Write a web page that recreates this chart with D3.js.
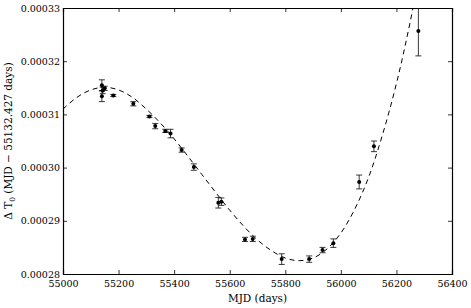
<!DOCTYPE html>
<html>
<head>
<meta charset="utf-8">
<script src="https://cdn.jsdelivr.net/npm/d3@7"></script>
<style>
  body { margin: 0; background: #fff; }
  svg text { font-family: "DejaVu Serif", serif; fill: #000; }
</style>
</head>
<body>
<div class="chart"></div>
<script>
// observed timing offsets (units of 1e-5 days)
const mjd = [55140, 55143, 55150, 55140, 55181, 55253, 55311, 55332, 55368, 55387,
  55427, 55471, 55559, 55570, 55655, 55683, 55787, 55886, 55934, 55973,
  56066, 56119, 56279];
const dT = [31.55, 31.45, 31.49, 31.34, 31.355, 31.20, 30.96, 30.78, 30.69, 30.64,
  30.33, 30.01, 29.34, 29.36, 28.65, 28.66, 28.28, 28.28, 28.45, 28.58,
  29.73, 30.40, 32.57];
const dTerr = [0.10, 0.06, 0.04, 0.10, 0.02, 0.04, 0.02, 0.05, 0.03, 0.08,
  0.04, 0.06, 0.10, 0.07, 0.04, 0.05, 0.10, 0.06, 0.05, 0.08,
  0.13, 0.10, 0.47];

// fitted model curve
const fitMjd = [55000, 55050, 55100, 55150, 55200, 55250, 55300, 55350, 55400, 55450,
  55500, 55550, 55600, 55650, 55700, 55750, 55800, 55850, 55900, 55950,
  56000, 56050, 56100, 56150, 56200, 56250, 56300];
const fitDT = [31.10, 31.32, 31.46, 31.51, 31.46, 31.32, 31.10, 30.84, 30.54, 30.21,
  29.87, 29.53, 29.20, 28.90, 28.64, 28.44, 28.30, 28.25, 28.30, 28.47,
  28.77, 29.22, 29.82, 30.62, 31.58, 32.75, 34.10];

const xTicks = [55000, 55200, 55400, 55600, 55800, 56000, 56200, 56400];
const yTicks = [28, 29, 30, 31, 32, 33];

const margin = { top: 8, right: 19, bottom: 34, left: 63 };
const W = 471, H = 308;
const width = W - margin.left - margin.right;
const height = H - margin.top - margin.bottom;

const svg = d3.select(".chart").append("svg")
  .attr("width", W).attr("height", H);
const g = svg.append("g").attr("transform", `translate(${margin.left},${margin.top})`);

const x = d3.scaleLinear().domain([55000, 56400]).range([0, width]);
const y = d3.scaleLinear().domain([28, 33]).range([height, 0]);

svg.append("defs").append("clipPath").attr("id", "clip")
  .append("rect").attr("width", width).attr("height", height);

const fmtY = d => (d / 100000).toFixed(5);

// axes, ticks pointing inward on all four sides
g.append("g").attr("transform", `translate(0,${height})`)
  .call(d3.axisBottom(x).tickValues(xTicks).tickSize(-4).tickPadding(6).tickFormat(d3.format("d")));
g.append("g")
  .call(d3.axisTop(x).tickValues(xTicks).tickSize(-4).tickFormat(""));
g.append("g")
  .call(d3.axisLeft(y).tickValues(yTicks).tickSize(-4).tickPadding(3).tickFormat(fmtY));
g.append("g").attr("transform", `translate(${width},0)`)
  .call(d3.axisRight(y).tickValues(yTicks).tickSize(-4).tickFormat(""));

g.selectAll(".domain").attr("stroke", "#000").attr("stroke-width", 1.2);
g.selectAll(".tick line").attr("stroke", "#000").attr("stroke-width", 0.8);
g.selectAll(".tick text").style("font-size", "9.5px").attr("fill", "#000");

const plot = g.append("g").attr("clip-path", "url(#clip)");

// dashed model
const fit = fitMjd.map((m, i) => [m, fitDT[i]]);
plot.append("path")
  .datum(fit)
  .attr("fill", "none")
  .attr("stroke", "#000")
  .attr("stroke-width", 1)
  .attr("stroke-dasharray", "5,4")
  .attr("d", d3.line().x(d => x(d[0])).y(d => y(d[1])).curve(d3.curveCatmullRom));

// error bars
const pts = mjd.map((m, i) => ({ m, v: dT[i], e: dTerr[i] }));
const eb = plot.selectAll(".eb").data(pts).join("g").attr("stroke", "#222").attr("stroke-width", 0.9);
eb.append("line")
  .attr("x1", d => x(d.m)).attr("x2", d => x(d.m))
  .attr("y1", d => y(d.v - d.e)).attr("y2", d => y(d.v + d.e));
eb.append("line")
  .attr("x1", d => x(d.m) - 3).attr("x2", d => x(d.m) + 3)
  .attr("y1", d => y(d.v - d.e)).attr("y2", d => y(d.v - d.e));
eb.append("line")
  .attr("x1", d => x(d.m) - 3).attr("x2", d => x(d.m) + 3)
  .attr("y1", d => y(d.v + d.e)).attr("y2", d => y(d.v + d.e));

plot.selectAll(".pt").data(pts).join("circle")
  .attr("cx", d => x(d.m)).attr("cy", d => y(d.v))
  .attr("r", 2).attr("fill", "#000");

// axis labels
g.append("text")
  .attr("x", width / 2).attr("y", height + 28)
  .attr("text-anchor", "middle")
  .style("font-size", "10.5px")
  .text("MJD (days)");

const yl = g.append("text")
  .attr("transform", `translate(${-51},${height / 2}) rotate(-90)`)
  .attr("text-anchor", "middle")
  .style("font-size", "10.5px");
yl.append("tspan").text("\u0394 T");
yl.append("tspan").attr("dy", 2.5).style("font-size", "7.5px").text("0");
yl.append("tspan").attr("dy", -2.5).text(" (MJD \u2212 55132.427 days)");
</script>
</body>
</html>
